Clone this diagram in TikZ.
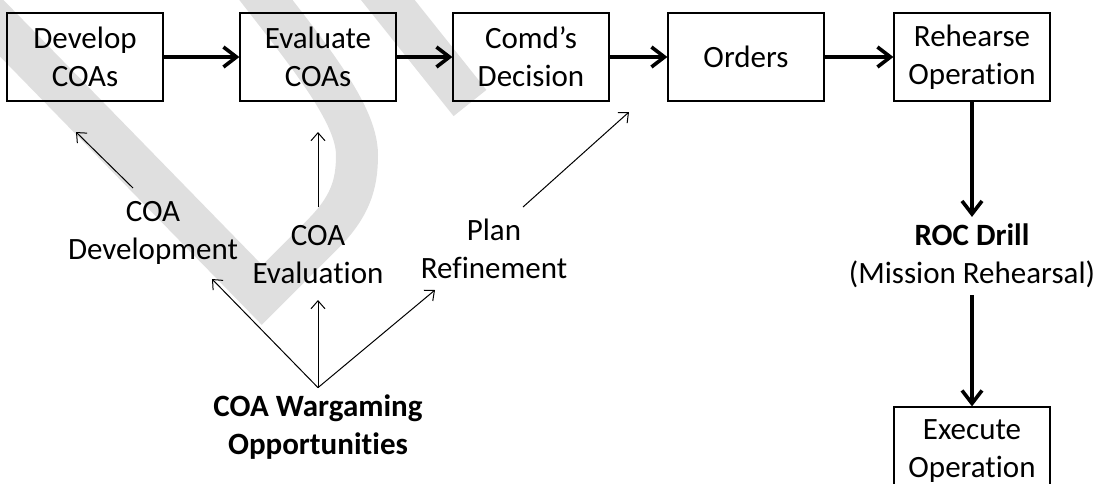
\documentclass[tikz,border=0pt]{standalone}
\usepackage{fontspec}
\setmainfont{Carlito}[Ligatures={TeX,NoCommon}]
\usetikzlibrary{arrows.meta}

\begin{document}
\begin{tikzpicture}[x=0.5pt, y=-0.5pt,
  every node/.style={font=\fontsize{15.5}{19}\selectfont, align=center},
  stepbox/.style={draw, line width=0.6pt, minimum width=78pt, minimum height=44pt, inner sep=2pt},
  flow/.style={line width=1.8pt, -{Straight Barb[length=6.5pt, width=10pt]}},
  feed/.style={line width=0.5pt, -{Straight Barb[length=4pt, width=7pt]}},
  watermark/.style={gray!25, line width=21pt}]
\clip (0,0) rectangle (1093,483);
% watermark behind the diagram
\draw [watermark, line join=miter] (-60,-35) -- (262,295) -- (322,235) .. controls (350,207) and (357,185) .. (357,155) .. controls (357,110) and (300,45) .. (235,-40);
\draw [watermark] (340,-60) -- (470,103);
% planning steps
\node [stepbox] (develop) at (85,57) {Develop\\COAs};
\node [stepbox] (evaluate) at (318,57) {Evaluate\\COAs};
\node [stepbox] (decision) at (531,57) {Comd’s\\Decision};
\node [stepbox] (orders) at (746,57) {Orders};
\node [stepbox] (rehearse) at (972,57) {Rehearse\\Operation};
\node [stepbox] (execute) at (972,451) {Execute\\Operation};
\node (roc) at (972,256) {\textbf{ROC Drill}\\(Mission Rehearsal)};
\draw [flow] (develop) -- (evaluate);
\draw [flow] (evaluate) -- (decision);
\draw [flow] (decision) -- (orders);
\draw [flow] (orders) -- (rehearse);
\draw [flow] (rehearse) -- (roc);
\draw [flow] (roc) -- (execute);
% wargaming
\node (dev) at (153,233) {COA\\Development};
\node (eval) at (318,255) {COA\\Evaluation};
\node (plan) at (494,249) {Plan\\Refinement};
\node (war) at (318,427) {\textbf{COA Wargaming}\\\textbf{Opportunities}};
\coordinate (devtail) at (133,188);
\coordinate (devtip) at (76,132);
\coordinate (evaltail) at (318,207);
\coordinate (evaltip) at (318,132);
\coordinate (plantail) at (523,207);
\coordinate (plantip) at (629,112);
\coordinate (devfoot) at (212,279);
\coordinate (evalfoot) at (318,300);
\coordinate (planfoot) at (435,290);
\draw [feed] (devtail) -- (devtip);
\draw [feed] (evaltail) -- (evaltip);
\draw [feed] (plantail) -- (plantip);
\draw [feed] (war.north) -- (devfoot);
\draw [feed] (war.north) -- (evalfoot);
\draw [feed] (war.north) -- (planfoot);
\end{tikzpicture}
\end{document}
